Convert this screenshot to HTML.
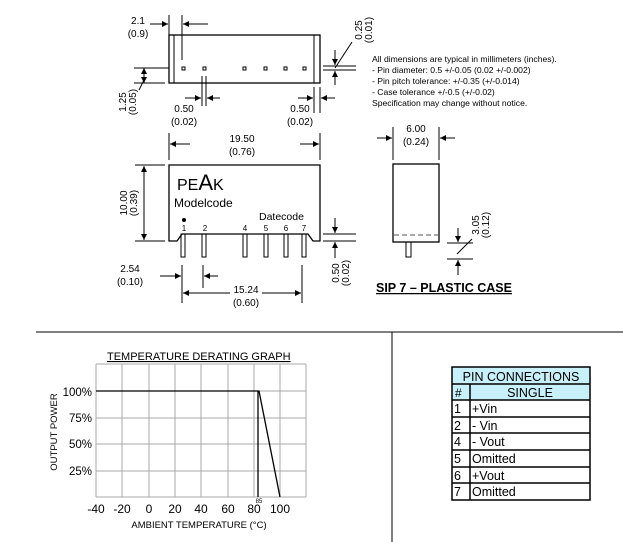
<!DOCTYPE html>
<html><head><meta charset="utf-8"><style>
html,body{margin:0;padding:0;background:#fff;}
svg{display:block;font-family:"Liberation Sans",Arial,sans-serif;}
</style></head><body>
<svg width="623" height="542" viewBox="0 0 623 542" xmlns="http://www.w3.org/2000/svg">
<defs>
<marker id="a" viewBox="0 0 10 10" refX="10" refY="5" markerWidth="8" markerHeight="6" orient="auto" markerUnits="userSpaceOnUse"><path d="M0,0 L10,5 L0,10 z" fill="#000"/></marker>
</defs>
<g stroke="#000" stroke-width="1" fill="none">
<rect x="169" y="35" width="151" height="48" stroke-width="1.3"/>
<line x1="174" y1="35" x2="174" y2="83"/><line x1="314" y1="35" x2="314" y2="83"/>
<rect x="182" y="67" width="3" height="3"/><rect x="203" y="67" width="3" height="3"/><rect x="243" y="67" width="3" height="3"/><rect x="264" y="67" width="3" height="3"/><rect x="284" y="67" width="3" height="3"/><rect x="303" y="67" width="3" height="3"/>
<line x1="169" y1="15" x2="169" y2="35"/><line x1="182" y1="15" x2="182" y2="60"/>
<line x1="150" y1="24" x2="168" y2="24" marker-end="url(#a)"/><line x1="208" y1="24" x2="183" y2="24" marker-end="url(#a)"/>
<line x1="134" y1="68" x2="169" y2="68"/><line x1="134" y1="83" x2="165" y2="83"/>
<line x1="144" y1="76" x2="144" y2="68" marker-end="url(#a)"/><line x1="144" y1="76" x2="144" y2="83" marker-end="url(#a)"/>
<line x1="144" y1="80" x2="139" y2="90"/>
<line x1="202" y1="76" x2="202" y2="106"/><line x1="206" y1="76" x2="206" y2="106"/>
<line x1="185" y1="98" x2="201" y2="98" marker-end="url(#a)"/><line x1="220" y1="98" x2="207" y2="98" marker-end="url(#a)"/>
<line x1="314" y1="87" x2="314" y2="113"/><line x1="320" y1="87" x2="320" y2="113"/>
<line x1="298" y1="98" x2="313" y2="98" marker-end="url(#a)"/><line x1="335" y1="98" x2="321" y2="98" marker-end="url(#a)"/>
<line x1="323" y1="66" x2="356" y2="66"/><line x1="323" y1="70" x2="356" y2="70"/>
<line x1="335" y1="50" x2="335" y2="65" marker-end="url(#a)"/><line x1="335" y1="85" x2="335" y2="71" marker-end="url(#a)"/>
<line x1="335" y1="68" x2="352" y2="42"/>
<line x1="169" y1="133" x2="169" y2="160"/><line x1="320" y1="133" x2="320" y2="160"/>
<line x1="190" y1="144" x2="170" y2="144" marker-end="url(#a)"/><line x1="300" y1="144" x2="319" y2="144" marker-end="url(#a)"/>
<polygon points="169,165 320,165 320,241 313,241 308,234 182,234 177,241 169,241" stroke-width="1.3"/>
<rect x="181" y="234" width="4" height="23"/><rect x="202" y="234" width="4" height="23"/><rect x="243" y="234" width="4" height="23"/><rect x="264" y="234" width="4" height="23"/><rect x="284" y="234" width="4" height="23"/><rect x="302" y="234" width="4" height="23"/>
<line x1="135" y1="165" x2="165" y2="165"/><line x1="135" y1="241" x2="165" y2="241"/>
<line x1="144" y1="200" x2="144" y2="166" marker-end="url(#a)"/><line x1="144" y1="200" x2="144" y2="240" marker-end="url(#a)"/>
<line x1="323" y1="234" x2="356" y2="234"/><line x1="323" y1="241" x2="356" y2="241"/>
<line x1="335" y1="218" x2="335" y2="233" marker-end="url(#a)"/><line x1="335" y1="258" x2="335" y2="242" marker-end="url(#a)"/>
<line x1="182" y1="265" x2="182" y2="303"/><line x1="203" y1="265" x2="203" y2="288"/>
<line x1="160" y1="276" x2="181" y2="276" marker-end="url(#a)"/><line x1="218" y1="276" x2="204" y2="276" marker-end="url(#a)"/>
<line x1="302" y1="265" x2="302" y2="303"/>
<line x1="230" y1="293" x2="183" y2="293" marker-end="url(#a)"/><line x1="262" y1="293" x2="301" y2="293" marker-end="url(#a)"/>
<line x1="393" y1="127" x2="393" y2="160"/><line x1="439" y1="127" x2="439" y2="160"/>
<line x1="377" y1="138" x2="392" y2="138" marker-end="url(#a)"/><line x1="455" y1="138" x2="440" y2="138" marker-end="url(#a)"/>
<rect x="393" y="164" width="46" height="78" stroke-width="1.3"/>
<line x1="394" y1="235" x2="438" y2="235" stroke-dasharray="5,3" stroke="#555"/>
<rect x="406" y="242" width="5" height="15"/>
<line x1="447" y1="243" x2="473" y2="243"/><line x1="447" y1="259" x2="473" y2="259"/>
<line x1="458" y1="228" x2="458" y2="242" marker-end="url(#a)"/><line x1="458" y1="275" x2="458" y2="260" marker-end="url(#a)"/>
<line x1="457" y1="254" x2="472" y2="239"/>
<line x1="36" y1="332" x2="623" y2="332"/><line x1="392" y1="332" x2="392" y2="542"/>
</g>
<circle cx="184" cy="220" r="2" fill="#000"/>
<g font-size="10" fill="#000" text-anchor="middle">
<text x="138" y="24">2.1</text><text x="138" y="37">(0.9)</text>
<text x="184" y="112">0.50</text><text x="184" y="125">(0.02)</text>
<text x="300" y="112">0.50</text><text x="300" y="125">(0.02)</text>
<text x="242" y="142">19.50</text><text x="242" y="155">(0.76)</text>
<text x="130" y="272">2.54</text><text x="130" y="285">(0.10)</text>
<text x="246" y="293">15.24</text><text x="246" y="306">(0.60)</text>
<text x="416" y="132">6.00</text><text x="416" y="145">(0.24)</text>
<text transform="translate(126,102) rotate(-90)">1.25</text><text transform="translate(136,102) rotate(-90)">(0.05)</text>
<text transform="translate(362,30) rotate(-90)">0.25</text><text transform="translate(372,30) rotate(-90)">(0.01)</text>
<text transform="translate(127,203) rotate(-90)">10.00</text><text transform="translate(137,203) rotate(-90)">(0.39)</text>
<text transform="translate(339,273) rotate(-90)">0.50</text><text transform="translate(349,273) rotate(-90)">(0.02)</text>
<text transform="translate(479,225) rotate(-90)">3.05</text><text transform="translate(489,225) rotate(-90)">(0.12)</text>
</g>
<g font-size="8" fill="#000" text-anchor="middle">
<text x="184" y="231">1</text><text x="205" y="231">2</text><text x="245" y="231">4</text><text x="266" y="231">5</text><text x="286" y="231">6</text><text x="304" y="231">7</text>
</g>
<text x="177" y="190" font-size="16" fill="#000">PE<tspan font-size="22">A</tspan>K</text>
<text x="174" y="207" font-size="12" fill="#000">Modelcode</text>
<text x="259" y="220" font-size="10.5" fill="#000">Datecode</text>
<g font-size="8.6" fill="#000">
<text x="372" y="62">All dimensions are typical in millimeters (inches).</text>
<text x="372" y="73">- Pin diameter: 0.5 +/-0.05 (0.02 +/-0.002)</text>
<text x="372" y="84">- Pin pitch tolerance: +/-0.35 (+/-0.014)</text>
<text x="372" y="95">- Case tolerance +/-0.5 (+/-0.02)</text>
<text x="372" y="106">Specification may change without notice.</text>
</g>
<text x="376" y="292" font-size="12.5" font-weight="bold" text-decoration="underline" fill="#000">SIP 7 – PLASTIC CASE</text>
<text x="107" y="360" font-size="11" text-decoration="underline" fill="#000">TEMPERATURE DERATING GRAPH</text>
<g stroke="#aaa" stroke-width="1">
<line x1="96" y1="364" x2="306" y2="364"/><line x1="96" y1="391" x2="306" y2="391"/><line x1="96" y1="418" x2="306" y2="418"/><line x1="96" y1="444" x2="306" y2="444"/><line x1="96" y1="471" x2="306" y2="471"/><line x1="96" y1="497" x2="306" y2="497"/>
<line x1="96" y1="364" x2="96" y2="497"/><line x1="122" y1="364" x2="122" y2="497"/><line x1="149" y1="364" x2="149" y2="497"/><line x1="175" y1="364" x2="175" y2="497"/><line x1="201" y1="364" x2="201" y2="497"/><line x1="228" y1="364" x2="228" y2="497"/><line x1="254" y1="364" x2="254" y2="497"/><line x1="280" y1="364" x2="280" y2="497"/><line x1="306" y1="364" x2="306" y2="497"/>
</g>
<g stroke="#000" stroke-width="1.3" fill="none">
<polyline points="96,391 259,391 280,497"/><line x1="258" y1="391" x2="258" y2="497"/>
</g>
<g font-size="11.5" fill="#000" text-anchor="end">
<text x="92" y="396">100%</text><text x="92" y="422">75%</text><text x="92" y="448">50%</text><text x="92" y="475">25%</text>
</g>
<text transform="translate(57,432) rotate(-90)" font-size="9.5" text-anchor="middle" fill="#000">OUTPUT POWER</text>
<g font-size="12" fill="#000" text-anchor="middle">
<text x="96" y="513">-40</text><text x="122" y="513">-20</text><text x="149" y="513">0</text><text x="175" y="513">20</text><text x="201" y="513">40</text><text x="228" y="513">60</text><text x="254" y="513">80</text><text x="280" y="513">100</text>
</g>
<text x="259" y="503" font-size="6" text-anchor="middle" fill="#000">85</text>
<text x="199" y="528" font-size="9.5" text-anchor="middle" fill="#000">AMBIENT TEMPERATURE (°C)</text>
<rect x="452" y="367" width="138" height="33" fill="#c8f0fa"/>
<g stroke="#000" stroke-width="1.5" fill="none">
<rect x="452" y="367" width="138" height="133"/>
<line x1="452" y1="384" x2="590" y2="384"/>
<line x1="452" y1="400" x2="590" y2="400"/><line x1="452" y1="417" x2="590" y2="417"/><line x1="452" y1="433" x2="590" y2="433"/><line x1="452" y1="450" x2="590" y2="450"/><line x1="452" y1="467" x2="590" y2="467"/><line x1="452" y1="483" x2="590" y2="483"/>
<line x1="470" y1="384" x2="470" y2="500"/>
</g>
<g font-size="12.5" fill="#000">
<text x="521" y="381" text-anchor="middle">PIN CONNECTIONS</text>
<text x="455" y="397" font-size="12">#</text><text x="530" y="397" text-anchor="middle">SINGLE</text>
<text x="454" y="413">1</text><text x="472" y="413">+Vin</text>
<text x="454" y="430">2</text><text x="472" y="430">- Vin</text>
<text x="454" y="446">4</text><text x="472" y="446">- Vout</text>
<text x="454" y="463">5</text><text x="472" y="463">Omitted</text>
<text x="454" y="480">6</text><text x="472" y="480">+Vout</text>
<text x="454" y="496">7</text><text x="472" y="496">Omitted</text>
</g>
</svg>
</body></html>
